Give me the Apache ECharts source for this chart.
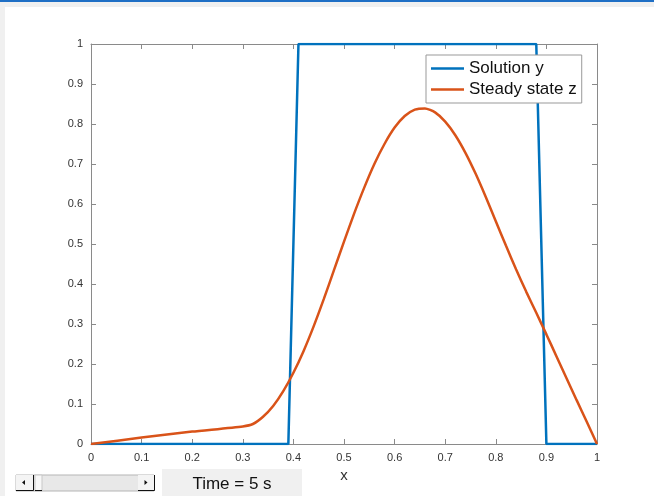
<!DOCTYPE html>
<html>
<head>
<meta charset="utf-8">
<script src="https://cdn.jsdelivr.net/npm/echarts@6/dist/echarts.min.js"></script>
<style>
html,body{margin:0;padding:0;background:#f0f0f0;width:654px;height:496px;overflow:hidden;position:relative;}
#topbar{position:absolute;left:0;top:0;width:654px;height:2px;background:#1f6fc5;}
#paper{position:absolute;left:5px;top:7px;width:649px;height:489px;background:#ffffff;}
#c{position:absolute;left:0;top:0;width:654px;height:496px;}
</style>
</head>
<body>
<div id="topbar"></div>
<div id="paper"></div>
<div id="c"></div>
<script>
// ---- data ----
const xTickValues = [0, 0.1, 0.2, 0.3, 0.4, 0.5, 0.6, 0.7, 0.8, 0.9, 1];
const yTickValues = [0, 0.1, 0.2, 0.3, 0.4, 0.5, 0.6, 0.7, 0.8, 0.9, 1];
const seriesNames = ['Solution y', 'Steady state z'];

const solutionX = [0, 0.39, 0.41, 0.88, 0.90, 1];
const solutionY = [0, 0, 1, 1, 0, 0];

const steadyX = [0, 0.1, 0.2, 0.3, 0.32, 0.34, 0.36, 0.38, 0.40, 0.42, 0.44, 0.46, 0.48, 0.50,
  0.52, 0.54, 0.56, 0.58, 0.60, 0.62, 0.64, 0.66, 0.68, 0.70, 0.72, 0.74, 0.76, 0.78, 0.80,
  0.82, 0.84, 0.86, 0.88, 0.90, 0.92, 0.94, 0.96, 0.98, 1.00];
const steadyY = [0, 0.016, 0.031, 0.044, 0.050, 0.068, 0.095, 0.132, 0.178, 0.232, 0.294, 0.362, 0.434, 0.506,
  0.576, 0.641, 0.700, 0.750, 0.791, 0.820, 0.836, 0.839, 0.829, 0.806, 0.772, 0.728, 0.676, 0.618, 0.557,
  0.496, 0.437, 0.381, 0.328, 0.274, 0.219, 0.164, 0.109, 0.055, 0];

const xAxisName = 'x';
const timeLabel = 'Time = 5 s';

// ---- chart ----
const FONT = "'Liberation Sans', Arial, Helvetica, sans-serif";
const axisColor = '#8a8a8a';
const labelColor = '#333333';
const fmt = v => String(parseFloat(Number(v).toFixed(1)));

const chart = echarts.init(document.getElementById('c'), null, {renderer: 'canvas'});

function xAxisCfg(pos, showLabels) {
  return {
    type: 'value', position: pos, min: 0, max: 1, interval: 0.1,
    axisLine: {show: true, onZero: false, lineStyle: {color: axisColor, width: 1}},
    axisTick: {show: true, inside: true, length: 5, lineStyle: {color: axisColor, width: 1}},
    axisLabel: {show: showLabels, color: labelColor, fontSize: 11, fontFamily: FONT, margin: 8, formatter: fmt},
    splitLine: {show: false},
    name: showLabels ? xAxisName : '',
    nameLocation: 'middle', nameGap: 24,
    nameTextStyle: {fontSize: 15, color: '#333', fontFamily: FONT}
  };
}
function yAxisCfg(pos, showLabels) {
  return {
    type: 'value', position: pos, min: 0, max: 1, interval: 0.1,
    axisLine: {show: true, onZero: false, lineStyle: {color: axisColor, width: 1}},
    axisTick: {show: true, inside: true, length: 5, lineStyle: {color: axisColor, width: 1}},
    axisLabel: {show: showLabels, color: labelColor, fontSize: 11, fontFamily: FONT, margin: 8, formatter: fmt},
    splitLine: {show: false}
  };
}

const zip = (xs, ys) => xs.map((x, i) => [x, ys[i]]);

chart.setOption({
  animation: false,
  backgroundColor: 'transparent',
  textStyle: {fontFamily: FONT},
  grid: {left: 91, right: 57, top: 44, bottom: 52, containLabel: false},
  xAxis: [xAxisCfg('bottom', true), xAxisCfg('top', false)],
  yAxis: [yAxisCfg('left', true), yAxisCfg('right', false)],
  legend: {
    orient: 'vertical', left: 426, top: 55,
    data: seriesNames,
    icon: 'rect', itemWidth: 33, itemHeight: 2.5, itemGap: 0,
    backgroundColor: '#ffffff', borderColor: '#999999', borderWidth: 1,
    padding: [3, 5, 3, 5],
    textStyle: {fontSize: 17, color: '#111', fontFamily: FONT, lineHeight: 21},
    selectedMode: false
  },
  series: [
    {name: seriesNames[0], type: 'line', data: zip(solutionX, solutionY), showSymbol: false, symbol: 'none',
     lineStyle: {color: '#0072BD', width: 2.5}, itemStyle: {color: '#0072BD'}, xAxisIndex: 0, yAxisIndex: 0},
    {name: seriesNames[1], type: 'line', data: zip(steadyX, steadyY), showSymbol: false, symbol: 'none',
     smooth: 0.2,
     lineStyle: {color: '#D95319', width: 2.5}, itemStyle: {color: '#D95319'}, xAxisIndex: 0, yAxisIndex: 0}
  ],
  graphic: [
    // slider track
    {type: 'rect', shape: {x: 16, y: 475, width: 138, height: 16}, style: {fill: '#e8e8e8', stroke: '#b5b5b5', lineWidth: 1}, silent: true},
    // left button
    {type: 'rect', shape: {x: 16, y: 475, width: 17, height: 16}, style: {fill: '#f4f4f4'}, silent: true},
    {type: 'polyline', shape: {points: [[16, 490.5], [33.5, 490.5], [33.5, 475]]}, style: {stroke: '#111', lineWidth: 1, fill: null}, silent: true},
    {type: 'polygon', shape: {points: [[22, 482.5], [25, 480], [25, 485]]}, style: {fill: '#111'}, silent: true},
    // thumb
    {type: 'rect', shape: {x: 35, y: 475, width: 7, height: 16}, style: {fill: '#f8f8f8', stroke: '#c8c8c8', lineWidth: 1}, silent: true},
    {type: 'line', shape: {x1: 35, y1: 490.5, x2: 42, y2: 490.5}, style: {stroke: '#111', lineWidth: 1}, silent: true},
    // right button
    {type: 'rect', shape: {x: 138, y: 475, width: 16, height: 16}, style: {fill: '#f4f4f4'}, silent: true},
    {type: 'polyline', shape: {points: [[138, 490.5], [154.5, 490.5], [154.5, 475]]}, style: {stroke: '#111', lineWidth: 1, fill: null}, silent: true},
    {type: 'polygon', shape: {points: [[147.5, 482.5], [144.5, 480], [144.5, 485]]}, style: {fill: '#111'}, silent: true},
    // time box
    {type: 'rect', shape: {x: 162, y: 469, width: 140, height: 27}, style: {fill: '#f0f0f0'}, silent: true},
    {type: 'text', x: 232, y: 484, style: {text: timeLabel, fontSize: 17, fontFamily: FONT, fill: '#111', align: 'center', verticalAlign: 'middle'}, silent: true}
  ]
});
</script>
</body>
</html>
